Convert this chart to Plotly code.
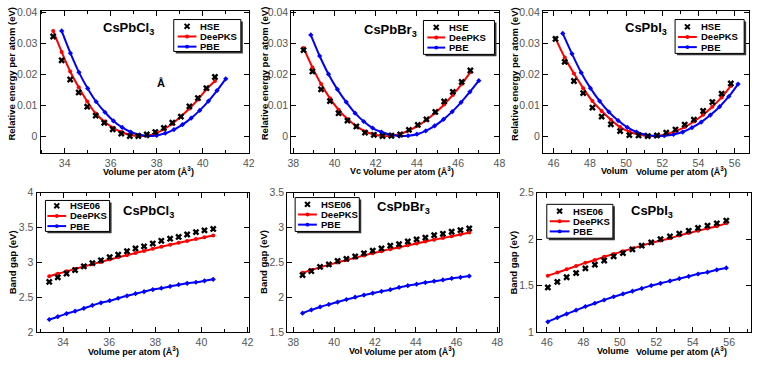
import plotly.graph_objects as go

W, H = 763, 369

# ---------------- DATA ----------------
# Top row: relative energy per atom (eV)
cl_e_vol = [33.50, 33.87, 34.24, 34.61, 34.98, 35.35, 35.72, 36.09, 36.46, 36.83,
            37.20, 37.57, 37.94, 38.31, 38.68, 39.05, 39.42, 39.79, 40.16, 40.53]
cl_e_hse = [0.0322, 0.0245, 0.0183, 0.0141, 0.0095, 0.0066, 0.0043, 0.0022, 0.0008, 0.0000,
            0.0000, 0.0005, 0.0013, 0.0026, 0.0043, 0.0063, 0.0096, 0.0123, 0.0155, 0.0191]
cl_e_deepks = [0.0340, 0.0272, 0.0209, 0.0158, 0.0112, 0.0073, 0.0047, 0.0027, 0.0013, 0.0004,
               0.0000, 0.0002, 0.0008, 0.0022, 0.0040, 0.0063, 0.0089, 0.0118, 0.0151, 0.0178]
cl_e_vol_pbe = [33.87, 34.25, 34.62, 35.00, 35.37, 35.75, 36.12, 36.50, 36.87, 37.25,
                37.62, 38.00, 38.37, 38.75, 39.12, 39.50, 39.87, 40.25, 40.62, 41.00]
cl_e_pbe = [0.0340, 0.0268, 0.0206, 0.0154, 0.0111, 0.0077, 0.0049, 0.0028, 0.0013, 0.0004,
            0.0000, 0.0002, 0.0009, 0.0021, 0.0037, 0.0058, 0.0083, 0.0113, 0.0147, 0.0185]

br_e_vol = [38.50, 38.93, 39.35, 39.78, 40.20, 40.63, 41.06, 41.48, 41.91, 42.33,
            42.76, 43.19, 43.61, 44.04, 44.46, 44.89, 45.32, 45.74, 46.17, 46.59]
br_e_hse = [0.0278, 0.0209, 0.0151, 0.0113, 0.0074, 0.0050, 0.0031, 0.0011, 0.0004, 0.0000,
            0.0001, 0.0005, 0.0020, 0.0036, 0.0054, 0.0078, 0.0112, 0.0143, 0.0175, 0.0212]
br_e_deepks = [0.0285, 0.0222, 0.0168, 0.0122, 0.0085, 0.0055, 0.0032, 0.0015, 0.0005, 0.0000,
               0.0001, 0.0007, 0.0018, 0.0033, 0.0052, 0.0075, 0.0102, 0.0133, 0.0168, 0.0207]
br_e_vol_pbe = [38.85, 39.28, 39.71, 40.14, 40.57, 41.00, 41.42, 41.85, 42.28, 42.71,
                43.14, 43.57, 44.00, 44.43, 44.86, 45.29, 45.71, 46.14, 46.57, 47.00]
br_e_pbe = [0.0327, 0.0259, 0.0200, 0.0151, 0.0110, 0.0074, 0.0047, 0.0026, 0.0013, 0.0004,
            0.0000, 0.0001, 0.0006, 0.0017, 0.0033, 0.0054, 0.0079, 0.0109, 0.0143, 0.0179]

i_e_vol = [46.10, 46.61, 47.12, 47.63, 48.14, 48.65, 49.16, 49.67, 50.18, 50.69,
           51.20, 51.71, 52.22, 52.73, 53.24, 53.75, 54.26, 54.77, 55.28, 55.79]
i_e_hse = [0.0314, 0.0240, 0.0178, 0.0139, 0.0092, 0.0063, 0.0038, 0.0016, 0.0003, 0.0002,
           0.0000, 0.0002, 0.0011, 0.0021, 0.0037, 0.0053, 0.0081, 0.0110, 0.0137, 0.0170]
i_e_deepks = [0.0316, 0.0254, 0.0202, 0.0155, 0.0113, 0.0081, 0.0053, 0.0029, 0.0014, 0.0005,
              0.0000, 0.0001, 0.0006, 0.0016, 0.0029, 0.0047, 0.0069, 0.0095, 0.0125, 0.0162]
i_e_vol_pbe = [46.50, 47.01, 47.52, 48.03, 48.54, 49.05, 49.56, 50.07, 50.58, 51.09,
               51.60, 52.11, 52.62, 53.13, 53.64, 54.15, 54.66, 55.17, 55.68, 56.19]
i_e_pbe = [0.0332, 0.0266, 0.0205, 0.0155, 0.0113, 0.0078, 0.0050, 0.0028, 0.0013, 0.0004,
           0.0000, 0.0001, 0.0005, 0.0013, 0.0027, 0.0045, 0.0068, 0.0095, 0.0128, 0.0168]

# Bottom row: band gap (eV)
cl_g_vol = [33.40, 33.77, 34.15, 34.52, 34.90, 35.27, 35.64, 36.02, 36.39, 36.77,
            37.14, 37.51, 37.89, 38.26, 38.64, 39.01, 39.38, 39.76, 40.13, 40.51]
cl_g_hse = [2.720, 2.785, 2.840, 2.890, 2.944, 2.990, 3.030, 3.075, 3.110, 3.160,
            3.200, 3.230, 3.270, 3.310, 3.340, 3.365, 3.400, 3.435, 3.460, 3.480]
cl_g_deepks = [2.800, 2.836, 2.871, 2.906, 2.940, 2.974, 3.007, 3.040, 3.072, 3.103,
               3.134, 3.164, 3.194, 3.223, 3.252, 3.280, 3.307, 3.334, 3.360, 3.386]
cl_g_pbe = [2.180, 2.220, 2.265, 2.300, 2.340, 2.383, 2.420, 2.450, 2.485, 2.520,
            2.550, 2.580, 2.610, 2.630, 2.655, 2.680, 2.700, 2.715, 2.735, 2.757]

br_g_vol = [38.45, 38.88, 39.31, 39.74, 40.17, 40.60, 41.03, 41.46, 41.89, 42.32,
            42.75, 43.18, 43.61, 44.04, 44.47, 44.90, 45.33, 45.76, 46.19, 46.62]
br_g_hse = [2.318, 2.374, 2.435, 2.470, 2.520, 2.550, 2.585, 2.630, 2.668, 2.700,
            2.740, 2.760, 2.800, 2.830, 2.855, 2.890, 2.910, 2.940, 2.963, 2.986]
br_g_deepks = [2.350, 2.390, 2.430, 2.465, 2.500, 2.535, 2.565, 2.600, 2.630, 2.660,
               2.690, 2.715, 2.745, 2.770, 2.800, 2.825, 2.850, 2.875, 2.900, 2.930]
br_g_pbe = [1.771, 1.818, 1.860, 1.897, 1.930, 1.967, 2.000, 2.030, 2.058, 2.084,
            2.108, 2.140, 2.165, 2.187, 2.210, 2.230, 2.248, 2.270, 2.285, 2.304]

i_g_vol = [46.05, 46.57, 47.08, 47.60, 48.11, 48.63, 49.14, 49.66, 50.17, 50.69,
           51.20, 51.72, 52.23, 52.75, 53.26, 53.78, 54.29, 54.81, 55.32, 55.84]
i_g_hse = [1.480, 1.540, 1.590, 1.635, 1.685, 1.725, 1.770, 1.815, 1.850, 1.890,
           1.930, 1.965, 2.000, 2.030, 2.060, 2.090, 2.120, 2.145, 2.170, 2.200]
i_g_deepks = [1.607, 1.640, 1.675, 1.710, 1.745, 1.775, 1.810, 1.840, 1.870, 1.900,
              1.930, 1.960, 1.985, 2.010, 2.040, 2.065, 2.090, 2.115, 2.140, 2.170]
i_g_pbe = [1.110, 1.155, 1.195, 1.235, 1.275, 1.310, 1.345, 1.380, 1.410, 1.440,
           1.470, 1.500, 1.525, 1.550, 1.575, 1.600, 1.625, 1.645, 1.670, 1.690]

materials = ["CsPbCl<sub>3</sub>", "CsPbBr<sub>3</sub>", "CsPbI<sub>3</sub>"]
legend_labels_top = ["HSE", "DeePKS", "PBE"]
legend_labels_bot = ["HSE06", "DeePKS", "PBE"]
x_title = "Volume per atom (Å<sup>3</sup>)"
y_title_top = "Relative energy per atom (eV)"
y_title_bot = "Band gap (eV)"

panels = [
    (cl_e_vol, cl_e_hse, cl_e_deepks, cl_e_vol_pbe, cl_e_pbe),
    (br_e_vol, br_e_hse, br_e_deepks, br_e_vol_pbe, br_e_pbe),
    (i_e_vol, i_e_hse, i_e_deepks, i_e_vol_pbe, i_e_pbe),
    (cl_g_vol, cl_g_hse, cl_g_deepks, cl_g_vol, cl_g_pbe),
    (br_g_vol, br_g_hse, br_g_deepks, br_g_vol, br_g_pbe),
    (i_g_vol, i_g_hse, i_g_deepks, i_g_vol, i_g_pbe),
]

# ---------------- LAYOUT GEOMETRY (pixels) ----------------
def fx(p):
    return p / W

def fy(p):
    return 1 - p / H

# plot-area boxes: (left, right, top, bottom) in px
boxes = [
    (37, 248, 5, 152), (291, 502, 5, 152), (546, 755, 5, 152),
    (33, 248, 193, 337), (287, 502, 193, 337), (540, 757, 193, 337),
]
xranges = [[32.95, 42], [37.9, 48], [45.4, 56.8],
           [32.85, 42.05], [37.7, 48.1], [45.45, 57.2]]
yranges = [[-0.0055, 0.0405]] * 3 + [[2, 4], [1.5, 3.5], [1, 2.5]]
ydticks = [0.01, 0.01, 0.01, 0.5, 0.5, 0.5]

RED = "#ff0000"
BLUE = "#0000ff"
FONT = "Arial"

fig = go.Figure()
for k, (vx, hse, dp, vxp, pbe) in enumerate(panels):
    xa = "x" if k == 0 else f"x{k+1}"
    ya = "y" if k == 0 else f"y{k+1}"
    fig.add_trace(go.Scatter(x=vx, y=dp, mode="lines+markers", xaxis=xa, yaxis=ya,
                             line=dict(color=RED, width=2, shape="spline"),
                             marker=dict(color=RED, size=4, symbol="circle"),
                             showlegend=False))
    fig.add_trace(go.Scatter(x=vxp, y=pbe, mode="lines+markers", xaxis=xa, yaxis=ya,
                             line=dict(color=BLUE, width=2, shape="spline"),
                             marker=dict(color=BLUE, size=4, symbol="diamond"),
                             showlegend=False))
    fig.add_trace(go.Scatter(x=vx, y=hse, mode="markers", xaxis=xa, yaxis=ya,
                             marker=dict(color="black", size=6, symbol="x"),
                             showlegend=False))

layout = dict(width=W, height=H, margin=dict(l=0, r=0, t=0, b=0),
              paper_bgcolor="white", plot_bgcolor="white", showlegend=False)
for k in range(6):
    l, r, t, b = boxes[k]
    xkey = "xaxis" if k == 0 else f"xaxis{k+1}"
    ykey = "yaxis" if k == 0 else f"yaxis{k+1}"
    xa = "x" if k == 0 else f"x{k+1}"
    ya = "y" if k == 0 else f"y{k+1}"
    common = dict(showline=True, linecolor="black", linewidth=1, mirror="ticks",
                  ticks="inside", ticklen=5, tickwidth=1, tickcolor="black",
                  showgrid=False, zeroline=False,
                  tickfont=dict(family=FONT, size=10.5, color="#555555"))
    layout[xkey] = dict(common, domain=[fx(l), fx(r)], range=xranges[k], anchor=ya,
                        dtick=2, tick0=0,
                        minor=dict(ticks="inside", ticklen=3, tickcolor="black", dtick=1, tick0=0))
    layout[ykey] = dict(common, domain=[fy(b), fy(t)], range=yranges[k], anchor=xa,
                        dtick=ydticks[k], tick0=0)
fig.update_layout(**layout)

annotations = []
shapes = []

def text(x, y, s, size=10, angle=0, color="black", xanchor="center"):
    annotations.append(dict(x=fx(x), y=fy(y), xref="paper", yref="paper", text=s,
                            showarrow=False, xanchor=xanchor, yanchor="middle",
                            textangle=angle, borderpad=0,
                            font=dict(family=FONT, size=size, color=color)))

# Panel labels
label_pos = [(126, 23), (392, 25), (651, 23), (146, 212), (405, 208), (657, 212)]
for k, (x, y) in enumerate(label_pos):
    text(x, y, "<b>" + materials[k % 3] + "</b>", size=13)

# Axis titles
xt_pos = [(146, 171), (410, 171), (686, 171), (131, 357), (411, 357), (686, 357)]
for x, y in xt_pos:
    text(x, y, "<b>" + x_title + "</b>", size=9)
yt_pos = [(8, 70), (264, 70), (517, 70), (8, 265), (263, 265), (516, 265)]
for k, (x, y) in enumerate(yt_pos):
    text(x, y, "<b>" + (y_title_top if k < 3 else y_title_bot) + "</b>", size=9.5, angle=-90)

# stray fragments seen in the original figure
text(159, 80, "<b>Å</b>", size=11)
text(356, 171, "<b>Vc</b>", size=9)
text(619, 171, "<b>Volum</b>", size=9)
text(356, 357, "<b>Vol</b>", size=9)
text(617, 357, "<b>Volume</b>", size=9)

# Legends (box, shadow, sample, labels)
legends = [
    (172, 240, 14, 47, 176, 195, 198, [21, 31.5, 42], legend_labels_top),
    (425, 497, 15, 50, 429, 447, 450, [22, 32.5, 43], legend_labels_top),
    (680, 750, 14, 49, 683, 702, 705, [21.5, 32, 42.5], legend_labels_top),
    (42, 107, 201, 233, 44, 63, 66, [206.5, 217, 227.5], legend_labels_bot),
    (295, 360, 198, 233, 298, 317, 320, [205, 215.5, 226], legend_labels_bot),
    (550, 617, 205, 240, 553, 573, 576, [212, 222.5, 233], legend_labels_bot),
]
for (bl, br, bt, bb, lx0, lx1, tx, ys, labs) in legends:
    shapes.append(dict(type="rect", xref="paper", yref="paper",
                       x0=fx(bl + 2), x1=fx(br + 2), y0=fy(bb + 2), y1=fy(bt + 2),
                       fillcolor="#333333", line=dict(width=0)))
    shapes.append(dict(type="rect", xref="paper", yref="paper",
                       x0=fx(bl), x1=fx(br), y0=fy(bb), y1=fy(bt),
                       fillcolor="white", line=dict(color="black", width=1)))
    cx = (lx0 + lx1) / 2
    for d in (1, -1):
        shapes.append(dict(type="line", xref="paper", yref="paper",
                           x0=fx(cx - 2.5), x1=fx(cx + 2.5),
                           y0=fy(ys[0] - 2.5 * d), y1=fy(ys[0] + 2.5 * d),
                           line=dict(color="black", width=2)))
    for row, col in ((1, RED), (2, BLUE)):
        shapes.append(dict(type="line", xref="paper", yref="paper",
                           x0=fx(lx0), x1=fx(lx1), y0=fy(ys[row]), y1=fy(ys[row]),
                           line=dict(color=col, width=2)))
        shapes.append(dict(type="circle", xref="paper", yref="paper",
                           x0=fx(cx - 2), x1=fx(cx + 2), y0=fy(ys[row] + 2), y1=fy(ys[row] - 2),
                           fillcolor=col, line=dict(color=col, width=0)))
    for row in range(3):
        text(tx, ys[row], "<b>" + labs[row] + "</b>", size=9.5, xanchor="left")

fig.update_layout(annotations=annotations, shapes=shapes)
fig.write_html("out.html", config={"displayModeBar": False},
               post_script="document.body.style.margin='0';document.body.style.overflow='hidden';")
